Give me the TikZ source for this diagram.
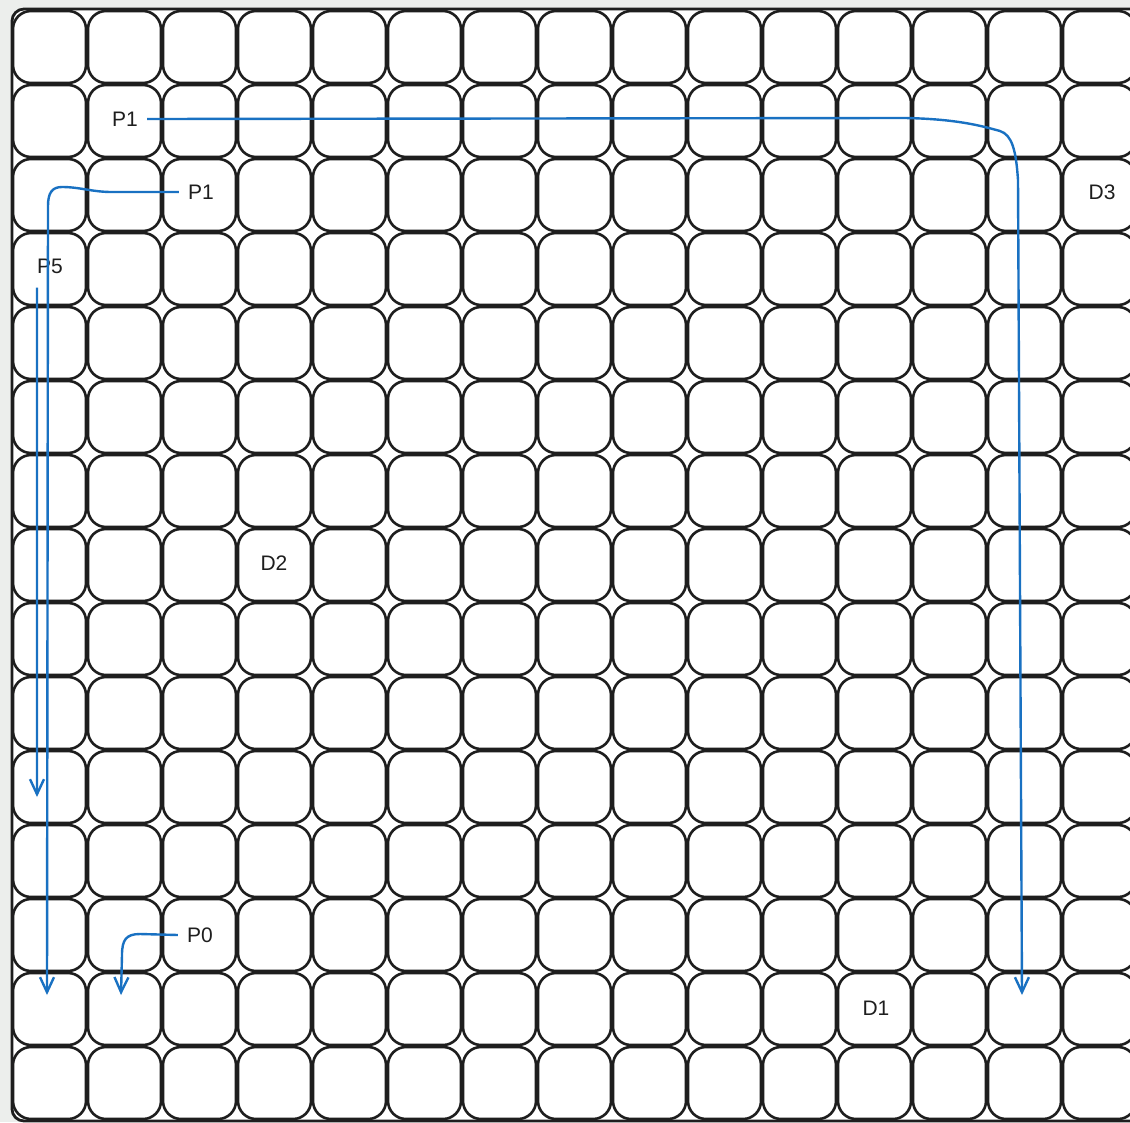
\documentclass[tikz,border=0pt]{standalone}
\usepackage{fontspec}
\setmainfont{Liberation Sans}
\usepackage{xcolor}
\usepackage{tikz}
\usetikzlibrary{arrows.meta,positioning,calc}
\definecolor{boardblue}{RGB}{25,113,194}
\definecolor{boardink}{RGB}{30,30,30}
\definecolor{boardbg}{RGB}{236,238,236}

\begin{document}
\begin{tikzpicture}[x=1pt,y=-1pt,
    cell/.style={draw=boardink, line width=2.6pt, rounded corners=18pt},
    board/.style={draw=boardink, line width=2.8pt, rounded corners=12pt, fill=white},
    lbl/.style={font=\fontsize{21}{23}\selectfont, text=boardink,
                inner xsep=9pt, inner ysep=4pt},
    route/.style={draw=boardblue, line width=2.4pt,
                  -{Straight Barb[length=15pt,width=14pt]}}]
  \useasboundingbox (0,0) rectangle (1130,1122);
  \fill[boardbg] (0,0) rectangle (1130,1122);
  \clip (0,0) rectangle (1130,1122);
  % outer board
  \draw[board] (12,9) rectangle (1150,1121);
  % 15 x 15 grid of rounded cells
  \def\px{75}   % column pitch
  \def\py{74}   % row pitch
  \foreach \r in {0,...,14} {
    \foreach \c in {0,...,14} {
      \draw[cell] ({13+\px*\c},{11+\py*\r}) rectangle ++(73,72);
    }
  }
  % labels
  \node[lbl] (p1top) at (125,119) {P1};
  \node[lbl] (p1left) at (201,192) {P1};
  \node[lbl] (p5) at (50,266) {P5};
  \node[lbl] (p0) at (200,935) {P0};
  \node[lbl] (d3) at (1102,192) {D3};
  \node[lbl] (d2) at (274,563) {D2};
  \node[lbl] (d1) at (876,1008) {D1};
  % free ends of the routes
  \coordinate (end1) at (1022,995);
  \coordinate (end2) at (47,995);
  \coordinate (end5) at (37,797);
  \coordinate (end0) at (121,995);
  % routes
  \draw[route] (p1top.east) -- (905,118)
    .. controls (960,119) and (985,127) .. (1000,131)
    .. controls (1012,135) and (1016,150) .. (1018,180) -- (end1);
  \draw[route] (p1left.west) -- (112,192)
    .. controls (92,192) and (80,187) .. (62,187)
    .. controls (52,187) and (48,193) .. (48,206) -- (end2);
  \draw[route] ([xshift=9pt,yshift=-10pt]p5.south west) -- (end5);
  \draw[route] (p0.west) -- (140,934)
    .. controls (126,934) and (122,940) .. (122,955) -- (end0);
\end{tikzpicture}
\end{document}
